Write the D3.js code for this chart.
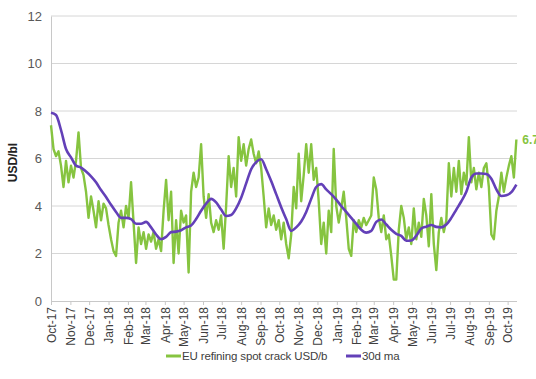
<!DOCTYPE html>
<html><head><meta charset="utf-8">
<script src="https://cdn.jsdelivr.net/npm/d3@7"></script>
<style>body{margin:0;background:#fff}svg{display:block}</style>
</head><body>
<script>
// ---- data ----
const crackStart = "2017-10-01";   // first observation, spaced 4 days apart
const crackStepDays = 4;
const crackValues = [7.4,6.4,6.1,6.3,5.7,4.8,5.9,5.0,5.7,5.2,5.9,7.1,5.6,5.3,4.6,3.5,4.4,3.8,3.1,4.2,
3.4,4.1,3.9,3.2,2.6,2.1,1.9,3.3,3.8,3.1,4.0,3.5,5.0,3.3,1.6,3.1,2.4,2.9,2.2,2.8,
2.5,2.9,2.2,2.6,2.1,3.8,5.1,3.4,4.6,1.6,3.4,2.0,3.8,3.3,3.6,1.2,4.6,5.4,4.8,5.2,
6.6,4.4,3.5,4.5,3.3,2.9,3.4,3.0,3.6,2.2,4.0,6.1,4.8,5.6,4.4,6.9,5.9,6.6,5.7,6.4,
6.8,6.2,5.8,6.3,5.6,4.4,3.1,3.9,3.2,3.6,3.0,3.4,2.6,3.3,2.4,1.8,2.8,4.8,3.9,6.2,
4.2,5.3,6.6,5.4,6.6,5.1,5.6,4.2,2.4,3.3,2.0,3.8,2.9,6.4,4.0,3.3,3.9,4.6,3.5,2.2,
1.9,3.4,2.9,3.4,3.1,3.5,3.2,3.4,3.6,5.2,4.7,3.5,2.9,3.6,2.6,2.8,1.9,0.9,0.9,3.0,
4.0,3.5,2.6,3.1,2.4,3.9,2.6,3.3,2.7,4.3,3.6,2.3,4.5,2.4,1.3,2.9,3.5,2.9,3.4,5.8,
4.4,5.6,4.6,5.9,4.5,5.4,4.9,6.9,5.0,5.6,4.7,5.4,4.8,5.6,5.8,4.8,2.8,2.6,3.8,4.4,
5.4,4.6,5.2,5.7,6.1,5.2,6.8];
const maStart = "2017-10-01";      // 30d moving average, spaced 8 days apart
const maStepDays = 8;
const maValues = [7.93,7.83,7.2,6.4,6.05,5.7,5.62,5.45,5.25,5.0,4.67,4.38,4.05,3.75,3.5,3.5,3.45,3.25,3.25,3.33,
3.1,2.8,2.6,2.7,2.9,2.92,2.98,3.1,3.18,3.45,3.8,4.1,4.3,4.15,3.85,3.58,3.62,3.9,4.35,4.95,
5.55,5.85,5.97,5.55,5.05,4.5,3.95,3.45,2.95,3.1,3.35,3.75,4.3,4.8,4.92,4.7,4.5,4.27,4.0,3.75,
3.5,3.25,3.0,2.88,2.95,3.33,3.43,3.22,3.0,2.83,2.74,2.54,2.55,2.75,3.05,3.13,3.2,3.12,3.1,3.22,
3.5,3.85,4.2,4.6,5.2,5.37,5.37,5.35,5.15,4.7,4.42,4.45,4.58,4.9];
const yTicks = [0,2,4,6,8,10,12];
const monthTickLabels = ["Oct-17","Nov-17","Dec-17","Jan-18","Feb-18","Mar-18","Apr-18","May-18","Jun-18","Jul-18","Aug-18","Sep-18","Oct-18","Nov-18","Dec-18","Jan-19","Feb-19","Mar-19","Apr-19","May-19","Jun-19","Jul-19","Aug-19","Sep-19","Oct-19"];
const seriesNames = ["EU refining spot crack USD/b","30d ma"];
const lastLabel = "6.7";
const yTitle = "USD/bl";

// ---- chart ----
const W = 536, H = 379;
const mLeft = 51, mRight = 517, mTop = 16, mBottom = 301;
const GREEN = "#86c440", PURPLE = "#6340b8";
const parse = d3.utcParse("%Y-%m-%d");
const d0 = parse(crackStart);
const crack = crackValues.map((v,i)=>({d:d3.utcDay.offset(d0,i*crackStepDays),v}));
const m0 = parse(maStart);
const ma = maValues.map((v,i)=>({d:d3.utcDay.offset(m0,i*maStepDays),v}));

const x = d3.scaleUtc().domain([parse("2017-10-01"), parse("2019-10-16")]).range([mLeft,mRight]);
const y = d3.scaleLinear().domain([0,12]).range([mBottom,mTop]);

const svg = d3.select("body").append("svg").attr("width",W).attr("height",H)
  .style("font-family","'Liberation Sans', Arial, sans-serif");

// gridlines
svg.append("g").selectAll("line").data(yTicks.filter(t=>t>0)).join("line")
  .attr("x1",mLeft).attr("x2",mRight).attr("y1",d=>y(d)).attr("y2",d=>y(d))
  .attr("stroke","#d6d6d6").attr("stroke-width",1);

// y axis
const yAxis = svg.append("g").attr("transform",`translate(${mLeft},0)`)
  .call(d3.axisLeft(y).tickValues(yTicks).tickSize(0).tickPadding(9));
yAxis.select(".domain").attr("stroke","#c8c8c8");
yAxis.selectAll("text").attr("fill","#595959").style("font-size","13px");

// x axis
const monthDates = monthTickLabels.map((_,i)=>d3.utcMonth.offset(parse("2017-10-01"),i));
const xAxis = svg.append("g").attr("transform",`translate(0,${mBottom})`)
  .call(d3.axisBottom(x).tickValues(monthDates).tickSize(4).tickFormat((d,i)=>monthTickLabels[i]));
xAxis.select(".domain").attr("stroke","#c8c8c8").attr("d",`M${mLeft},0.5H${mRight}`);
xAxis.selectAll(".tick line").attr("stroke","#c8c8c8");
xAxis.selectAll("text").attr("fill","#404040").style("font-size","12px")
  .attr("transform","rotate(-90)").attr("text-anchor","end")
  .attr("x",-6).attr("y",0).attr("dy","0.35em");

// y title
svg.append("text").attr("transform",`translate(17,${(mTop+mBottom)/2+4}) rotate(-90)`)
  .attr("text-anchor","middle").attr("font-weight","bold").style("font-size","12px")
  .attr("fill","#222").text(yTitle);

// lines
const line = d3.line().x(d=>x(d.d)).y(d=>y(d.v));
svg.append("path").datum(crack).attr("d",line).attr("fill","none")
  .attr("stroke",GREEN).attr("stroke-width",2.4).attr("stroke-linejoin","round");
svg.append("path").datum(ma).attr("d",line.curve(d3.curveMonotoneX)).attr("fill","none")
  .attr("stroke",PURPLE).attr("stroke-width",2.6).attr("stroke-linejoin","round");

// end label
const last = crack[crack.length-1];
svg.append("text").attr("x",x(last.d)+6).attr("y",y(last.v)+4)
  .attr("fill",GREEN).attr("font-weight","bold").style("font-size","12px").text(lastLabel);

// legend
const lg = svg.append("g").attr("transform","translate(166,356)");
const legendItems = [{name:seriesNames[0],c:GREEN,x:0},{name:seriesNames[1],c:PURPLE,x:180}];
legendItems.forEach(it=>{
  lg.append("line").attr("x1",it.x).attr("x2",it.x+15).attr("y1",0).attr("y2",0)
    .attr("stroke",it.c).attr("stroke-width",3);
  lg.append("text").attr("x",it.x+16).attr("y",0).attr("dy","0.35em")
    .attr("fill","#404040").style("font-size","11.5px").style("letter-spacing","-0.15px").text(it.name);
});
</script>
</body></html>
